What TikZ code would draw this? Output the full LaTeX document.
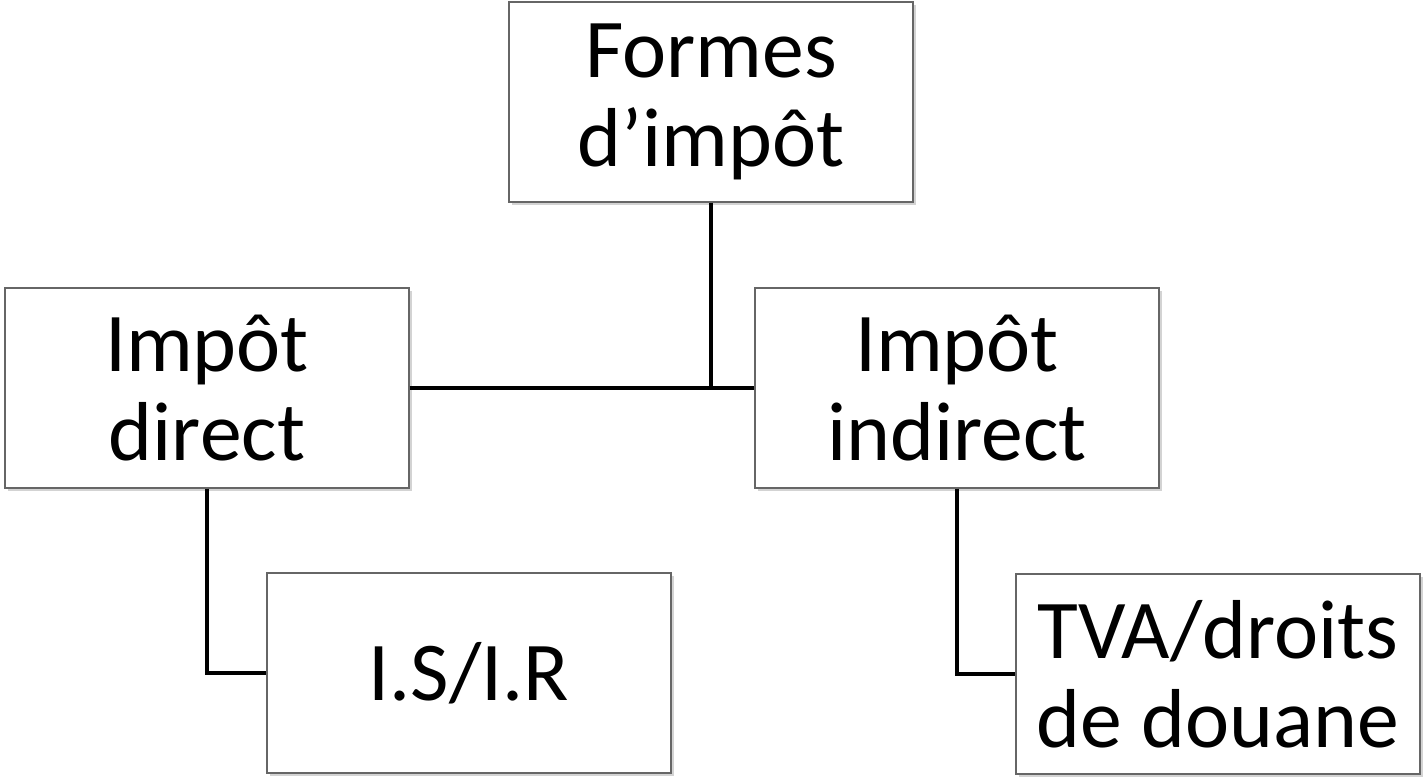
\documentclass[tikz,border=0pt]{standalone}
\usepackage{fontspec}
\setmainfont{Carlito}
\usepackage{tikz}
\usetikzlibrary{shadows}

\begin{document}
\begin{tikzpicture}[x=0.02cm,y=-0.02cm,
    box/.style={draw=gray!80!black,line width=0.8pt,fill=white,
      minimum width=8.08cm,minimum height=4cm,align=center,inner sep=0pt,
      font=\fontsize{47.6}{50.5}\selectfont,
      drop shadow={shadow xshift=1.5pt,shadow yshift=-1.5pt,opacity=0.35,fill=gray}},
    link/.style={line width=2.8pt}]
			\useasboundingbox (0,0) rectangle (1425,779);
			% top
			\node[box] (formes) at (711,102) {Formes\\d’impôt};
			% second level
			\node[box] (direct) at (207,388) {Impôt\\direct};
			\node[box] (indirect) at (957,388) {Impôt\\indirect};
			% leaves
			\node[box] (isir) at (469,673) {I.S/I.R};
			\node[box] (tva) at (1218,674) {TVA/droits\\de douane};
			\coordinate (junc) at (711,388);
			\draw[link] (formes.south) -- (junc);
			\draw[link] (direct.east) -- (indirect.west);
			\draw[link] (direct.south) |- (isir.west);
			\draw[link] (indirect.south) |- (tva.west);
		\end{tikzpicture}
\end{document}
